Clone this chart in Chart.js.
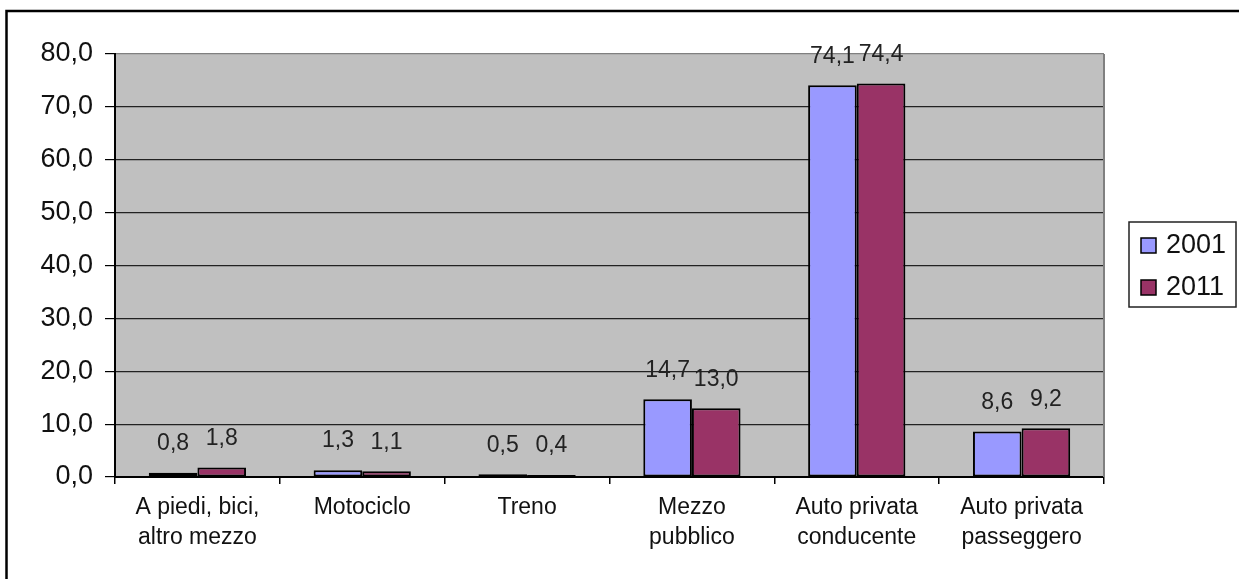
<!DOCTYPE html>
<html>
<head>
<meta charset="utf-8">
<script src="https://cdn.jsdelivr.net/npm/chart.js@4.4.1/dist/chart.umd.min.js"></script>
<style>
  html, body { margin: 0; padding: 0; background: #fff; overflow: hidden; }
  #wrap { position: relative; width: 1239px; height: 579px; }
</style>
</head>
<body>
<div id="wrap"><canvas id="chart" width="1239" height="579"></canvas></div>
<script>
// data
const categories = [
  ['A piedi, bici,', 'altro mezzo'],
  ['Motociclo'],
  ['Treno'],
  ['Mezzo', 'pubblico'],
  ['Auto privata', 'conducente'],
  ['Auto privata', 'passeggero']
];
const seriesNames = ['2001', '2011'];
const values2001 = [0.8, 1.3, 0.5, 14.7, 74.1, 8.6];
const values2011 = [1.8, 1.1, 0.4, 13.0, 74.4, 9.2];
const yMin = 0;
const yMax = 80;
const yStep = 10;

const colors = ['#9999FF', '#993366'];
const FONT = '"Liberation Sans", Arial, sans-serif';

function fmt(v) {
  return v.toFixed(1).replace('.', ',');
}

// plot background, outer frame, value labels, legend
const decorations = {
  id: 'decorations',
  beforeDraw(chart) {
    const { ctx, chartArea: a } = chart;
    ctx.save();
    ctx.fillStyle = '#C0C0C0';
    ctx.fillRect(a.left, a.top, a.right - a.left, a.bottom - a.top);
    ctx.restore();
  },
  afterDatasetsDraw(chart) {
    const { ctx, chartArea: a } = chart;
    ctx.save();
    // right edge of plot area
    ctx.strokeStyle = '#808080';
    ctx.lineWidth = 2;
    ctx.beginPath();
    ctx.moveTo(a.right, a.top);
    ctx.lineTo(a.right, a.bottom);
    ctx.stroke();

    // value labels
    ctx.font = '23px ' + FONT;
    ctx.fillStyle = '#222';
    ctx.textAlign = 'center';
    ctx.textBaseline = 'middle';
    chart.data.datasets.forEach((ds, i) => {
      chart.getDatasetMeta(i).data.forEach((bar, j) => {
        ctx.fillText(fmt(ds.data[j]), bar.x, bar.y - 29);
      });
    });
    ctx.restore();
  },
  afterDraw(chart) {
    const { ctx } = chart;
    ctx.save();
    // outer frame (only top and left visible)
    ctx.strokeStyle = '#000';
    ctx.lineWidth = 2.5;
    ctx.beginPath();
    ctx.moveTo(6.5, 600);
    ctx.lineTo(6.5, 11);
    ctx.lineTo(1260, 11);
    ctx.stroke();

    // legend
    const lx = 1129, ly = 222, lw = 107, lh = 85;
    ctx.lineWidth = 1.5;
    ctx.strokeStyle = '#222';
    ctx.fillStyle = '#fff';
    ctx.fillRect(lx, ly, lw, lh);
    ctx.strokeRect(lx, ly, lw, lh);
    ctx.font = '27px ' + FONT;
    ctx.textAlign = 'left';
    ctx.textBaseline = 'middle';
    chart.data.datasets.forEach((ds, i) => {
      const cy = 245 + i * 42;
      ctx.fillStyle = ds.backgroundColor;
      ctx.fillRect(1141, cy - 7, 15, 15);
      ctx.strokeStyle = '#000';
      ctx.lineWidth = 1.5;
      ctx.strokeRect(1141, cy - 7, 15, 15);
      ctx.fillStyle = '#111';
      ctx.fillText(ds.label, 1166, cy + 1);
    });
    ctx.restore();
  }
};

new Chart(document.getElementById('chart'), {
  type: 'bar',
  data: {
    labels: categories,
    datasets: [
      { label: seriesNames[0], data: values2001, backgroundColor: colors[0] },
      { label: seriesNames[1], data: values2011, backgroundColor: colors[1] }
    ]
  },
  options: {
    responsive: false,
    devicePixelRatio: 1,
    animation: false,
    layout: { padding: { top: 54, right: 135, bottom: 22, left: 0 } },
    datasets: {
      bar: {
        borderColor: '#000',
        borderWidth: 2,
        borderSkipped: false,
        barPercentage: 1,
        categoryPercentage: 0.59
      }
    },
    plugins: {
      legend: { display: false },
      tooltip: { enabled: false }
    },
    scales: {
      x: {
        afterFit(scale) { scale.height = 80; },
        grid: {
          offset: true,
          drawOnChartArea: false,
          drawTicks: true,
          tickLength: 7,
          color: '#000',
          lineWidth: 1.5
        },
        border: { color: '#000', width: 2 },
        ticks: {
          color: '#111',
          padding: 8,
          maxRotation: 0,
          autoSkip: false,
          font: { family: FONT, size: 23, lineHeight: 1.33 }
        }
      },
      y: {
        min: yMin,
        max: yMax,
        afterFit(scale) { scale.width = 115; },
        grid: {
          color: (c) => (c.tick && c.tick.value === yMax ? '#808080' : '#222'),
          tickColor: '#000',
          lineWidth: 1.2,
          tickLength: 10
        },
        border: { color: '#000', width: 2 },
        ticks: {
          stepSize: yStep,
          color: '#111',
          padding: 12,
          font: { family: FONT, size: 27 },
          callback: (v) => fmt(v)
        }
      }
    }
  },
  plugins: [decorations]
});
</script>
</body>
</html>
